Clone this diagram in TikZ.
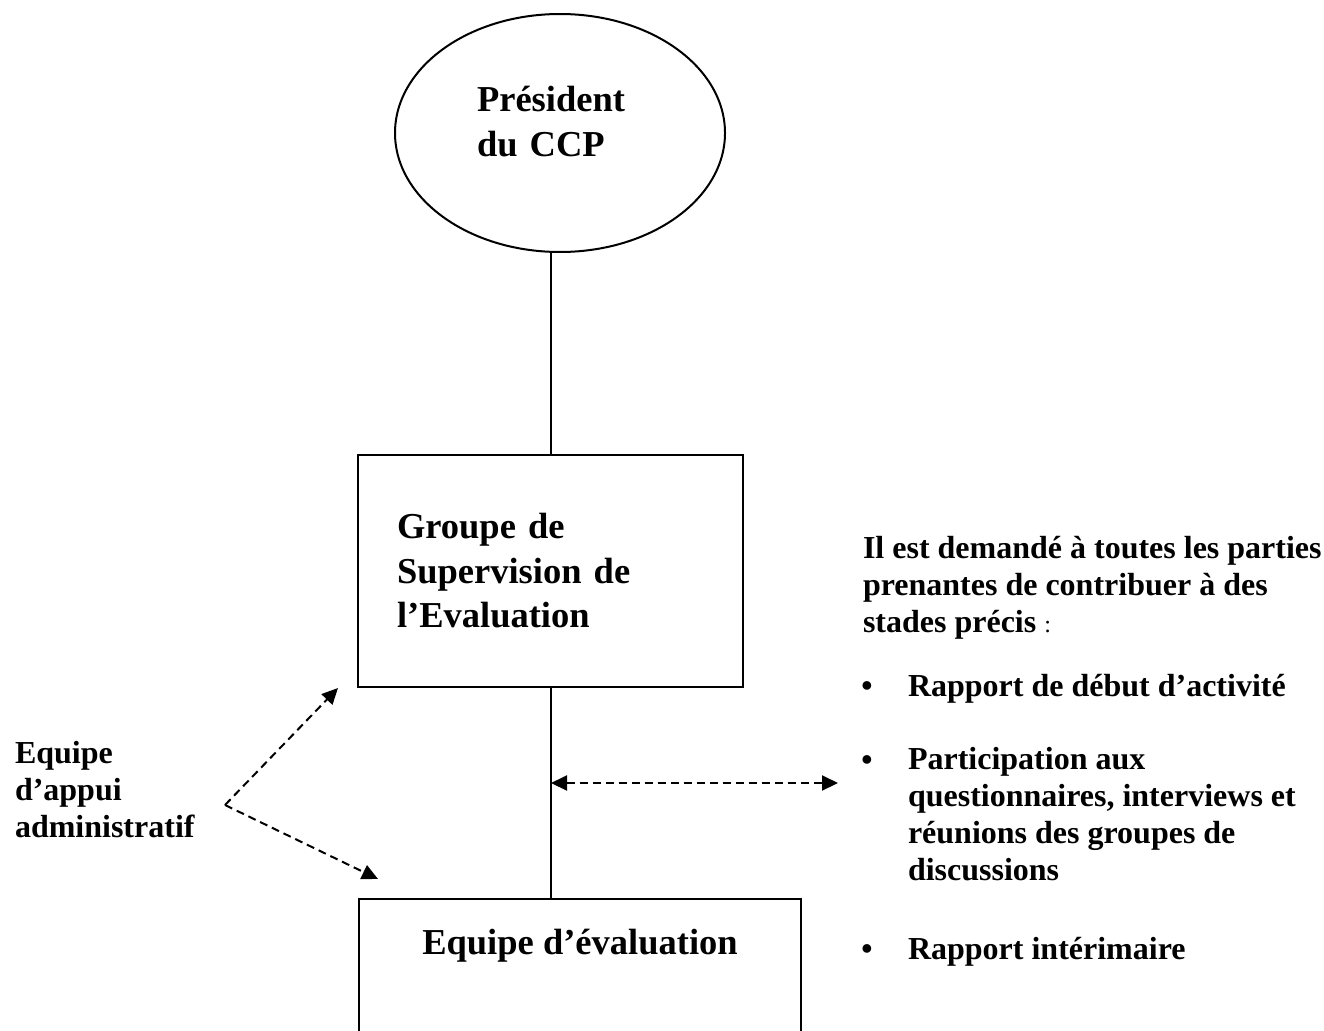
\documentclass[tikz,border=0pt]{standalone}
\usepackage{fontspec}
\setmainfont{Liberation Serif}
\usetikzlibrary{shapes.geometric,arrows.meta}

\newcommand\bigtxt{\fontsize{36.5}{44.5}\selectfont\bfseries}
\newcommand\smalltxt{\fontsize{32}{37}\selectfont\bfseries}

\begin{document}
\begin{tikzpicture}[x=1pt,y=-1pt,
  line width=2pt,
  orgbox/.style={draw,rectangle,inner sep=0pt,font=\bigtxt},
  notetext/.style={align=left,inner sep=0pt,font=\smalltxt},
  dasharrow/.style={dash pattern=on 8pt off 5pt,-{Triangle[length=16pt,width=15pt]}}]
  % Define the page
  \useasboundingbox (0,0) rectangle (1324,1030);

  % Draw the chain of command
  \node[draw,ellipse,minimum width=330pt,minimum height=238pt,inner sep=0pt,
    text width=166pt,text depth=68pt,align=left,font=\bigtxt] (pres) at (560,133) {Président\\du CCP};
  \node[orgbox,minimum width=385pt,minimum height=232pt,text width=307pt,
    align=left] (gse) at (550.5,571) {Groupe de\\Supervision de\\l’Evaluation};
  \node[orgbox,anchor=base,minimum width=442pt,text height=55pt,text depth=160pt]
    (ee) at (580,954) {Equipe d’évaluation};

  \draw (gse.north) -- (gse.north |- pres.south);
  \draw (gse.south) -- (gse.south |- ee.north);

  % Draw the support team
  \node[notetext,anchor=base west] (appui) at (14,837) {Equipe\\d’appui\\administratif};
  \coordinate (apx) at (225,805);
  \coordinate (tipA) at (338,688);
  \coordinate (tipB) at (378,879);
  \draw[dasharrow] (apx) -- (tipA);
  \draw[dasharrow] (apx) -- (tipB);

  % Draw the stakeholders
  \coordinate (askL) at (551,783);
  \coordinate (askR) at (838,783);
  \draw[dasharrow,{Triangle[length=16pt,width=15pt]}-{Triangle[length=16pt,width=15pt]}] (askL) -- (askR);

  \node[notetext,anchor=base west] (parties) at (862,632)
    {Il est demandé à toutes les parties\\prenantes de contribuer à des\\stades précis
     {\mdseries\fontsize{24}{37}\selectfont :}};
  \node[notetext,anchor=base west] (etape1) at (907,696) {Rapport de début d’activité};
  \node[notetext,anchor=base west] (etape2) at (907,880)
    {Participation aux\\questionnaires, interviews et\\réunions des groupes de\\discussions};
  \node[notetext,anchor=base west] (etape3) at (907,959) {Rapport intérimaire};

  % Draw the bullets
  \node[notetext,anchor=base] (puce1) at (867,696) {\textbullet};
  \node[notetext,anchor=base] (puce2) at (867,770) {\textbullet};
  \node[notetext,anchor=base] (puce3) at (867,959) {\textbullet};

\end{tikzpicture}
\end{document}
